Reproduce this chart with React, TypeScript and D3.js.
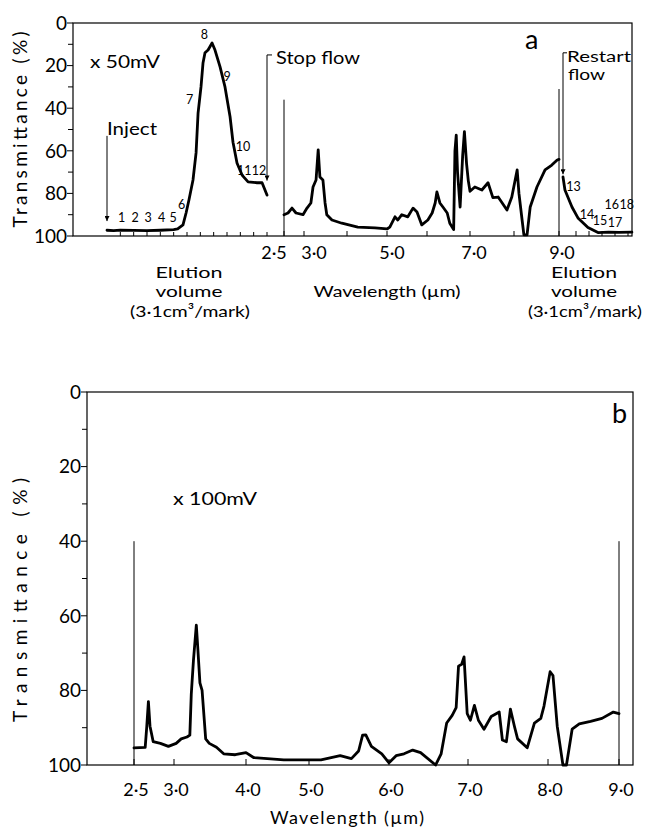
import React from "react";
import * as d3 from "d3";

// ---------- data ----------
const yMajor = [0, 20, 40, 60, 80, 100];
const yMinor = [10, 30, 50, 70, 90];
const wlTicks = [2.5, 3, 4, 5, 6, 7, 8, 9];
const topWlLabelValues = [2.5, 3, 5, 7, 9];
const topWlLabelText = ["2·5", "3·0", "5·0", "7·0", "9·0"];
const botWlLabelValues = [2.5, 3, 4, 5, 6, 7, 8, 9];
const botWlLabelText = ["2·5", "3·0", "4·0", "5·0", "6·0", "7·0", "8·0", "9·0"];

// Panel a: elution before stop flow (marks, transmittance %)
const elutionLeftVol = [0, 0.5, 1, 2, 3, 4, 5, 5.3, 5.7, 5.93, 6.15, 6.45, 6.68, 6.83, 7.05, 7.2, 7.35, 7.58, 7.88, 8.1, 8.48, 8.85, 9.23, 9.45, 9.75, 10.13, 10.58, 11.25, 11.63, 12];
const elutionLeftT = [97.3, 97.5, 97.2, 97.4, 97.5, 97.3, 97.0, 96.7, 94.8, 89.2, 83, 73.7, 61, 42.3, 30, 18.8, 14, 12.7, 9.4, 12.7, 20.6, 30, 44, 56, 65.7, 71.4, 74.6, 75, 75, 80.8];
const elutionLeftMarks = [1, 2, 3, 4, 5, 6, 7, 8, 9, 10, 11, 12];

// Panel a: IR spectrum during stop flow
const irTopWl = [2.5, 2.6, 2.7, 2.8, 2.975, 3.07, 3.16, 3.21, 3.28, 3.33, 3.37, 3.44, 3.49, 3.53, 3.65, 3.88, 4.27, 4.7, 5.0, 5.07, 5.2, 5.27, 5.37, 5.52, 5.65, 5.75, 5.87, 6.02, 6.12, 6.19, 6.23, 6.3, 6.37, 6.47, 6.53, 6.62, 6.65, 6.68, 6.71, 6.77, 6.83, 6.87, 6.92, 6.96, 7.0, 7.11, 7.27, 7.41, 7.52, 7.64, 7.84, 7.95, 8.07, 8.11, 8.18, 8.22, 8.29, 8.36, 8.51, 8.69, 8.84, 8.96, 9.0];
const irTopT = [90, 89.2, 86.9, 89.2, 90, 86.9, 84.5, 77, 73.7, 59.6, 72.3, 73.7, 84.5, 90, 92.5, 94, 95.8, 96.2, 96.7, 95.8, 91, 92.5, 90, 91, 86.9, 88.7, 94.8, 92.5, 89.2, 84.5, 79.3, 84.5, 86.4, 89.2, 94, 97, 60, 52.6, 70, 86.4, 62, 51, 66, 74, 79, 77, 78.4, 75, 82, 81.7, 87.8, 81.7, 69, 80, 92.5, 99.5, 99.5, 86.4, 77, 69, 66.7, 64.3, 64];

// Panel a: elution after restart flow
const elutionRightVol = [13, 13.15, 13.69, 14.15, 14.92, 15.69, 16.5, 17.3, 18.3];
const elutionRightT = [72.3, 78.4, 86.4, 91.5, 96, 98.4, 98.2, 98.3, 98.2];
const elutionRightMarks = [14, 15, 16, 17, 18];

// Panel b: IR spectrum
const irBotWl = [2.5, 2.64, 2.66, 2.68, 2.7, 2.74, 2.83, 2.93, 3.03, 3.1, 3.18, 3.22, 3.24, 3.27, 3.31, 3.33, 3.36, 3.39, 3.44, 3.49, 3.59, 3.69, 3.85, 4.0, 4.12, 4.6, 5.15, 5.39, 5.53, 5.62, 5.67, 5.71, 5.78, 5.91, 6.0, 6.09, 6.19, 6.3, 6.4, 6.59, 6.66, 6.73, 6.8, 6.85, 6.88, 6.92, 6.95, 6.99, 7.03, 7.08, 7.13, 7.2, 7.29, 7.39, 7.43, 7.48, 7.53, 7.58, 7.62, 7.74, 7.83, 7.91, 7.95, 8.03, 8.07, 8.13, 8.21, 8.26, 8.34, 8.44, 8.6, 8.76, 8.92, 9.0];
const irBotT = [95.4, 95.25, 89.6, 83, 89.6, 93.75, 94.2, 95, 94.2, 93, 92.5, 92, 81, 72, 62.5, 68.5, 78, 80, 93, 94.2, 95.25, 97, 97.25, 96.7, 98, 98.6, 98.6, 97.5, 98.3, 96.25, 92, 91.9, 95, 97, 99.4, 97.5, 97, 96, 96.7, 100, 97, 88.75, 86.7, 84.6, 73.5, 73, 71, 86.25, 88, 84, 88, 90.4, 87, 85.8, 93.3, 93.75, 85, 89.6, 93, 95.4, 88.75, 87.5, 84.2, 75, 76, 89.6, 100, 100, 90.4, 89, 88.3, 87.5, 85.8, 86.25];

// Annotation labels for elution marks: [text, mark, transmittance level]
const leftMarkLabels: [string, number, number][] = [
  ["1", 1.1, 91.5], ["2", 2.1, 91.5], ["3", 3.08, 91.5], ["4", 4.1, 91.5], ["5", 4.95, 91.2],
  ["6", 5.6, 85.4], ["7", 6.2, 36], ["8", 7.3, 5.6], ["9", 9.0, 25.4], ["10", 10.2, 58.2],
  ["11", 10.3, 69.5], ["12", 11.4, 69.5],
];
const rightMarkLabels: [string, number, number][] = [
  ["13", 13.8, 77], ["14", 14.85, 90], ["15", 15.85, 93], ["16", 16.75, 85.3], ["17", 17.0, 93.5], ["18", 17.9, 85.3],
];

const FONT = "Lato, 'DejaVu Sans', sans-serif";

export default function App() {
  // Panel a scales
  const yTop = d3.scaleLinear().domain([0, 100]).range([23, 236]);
  const xElL = d3.scaleLinear().domain([0, 12]).range([107, 267]);
  const xWlTop = d3.scaleLinear().domain(wlTicks).range([284, 304, 347, 387, 427, 470, 514, 559]);
  const xElR = d3.scaleLinear().domain([13, 18]).range([563, 628]);
  // Panel b scales
  const yBot = d3.scaleLinear().domain([0, 100]).range([392, 765]);
  const xWlBot = d3.scaleLinear().domain(wlTicks).range([134, 174, 246, 309, 389, 468, 548, 619]);

  const line = (xs: number[], ys: number[], sx: any, sy: any) =>
    d3.line<number>().x((_, i) => sx(xs[i])).y((_, i) => sy(ys[i])).curve(d3.curveLinear)(xs) || "";

  const tA = { l: 73, r: 632, t: 23, b: 236 };
  const tB = { l: 87, r: 633, t: 392, b: 765 };

  const traceStyle = { fill: "none", stroke: "#000", strokeWidth: 2.8, strokeLinejoin: "round" as const, strokeLinecap: "round" as const };
  const thin = { stroke: "#000", strokeWidth: 1 };

  const topLabelDx = [-10, 10, 5, 4, 3];

  return (
    <svg width={645} height={834} style={{ position: "absolute", left: 0, top: 0, background: "#fff" }} fontFamily={FONT}>
      <defs>
        <marker id="arr" viewBox="0 0 10 10" refX="10" refY="5" markerWidth="7" markerHeight="5" orient="auto" markerUnits="userSpaceOnUse">
          <path d="M0,0 L10,5 L0,10 Z" fill="#000" />
        </marker>
      </defs>

      {/* ===== Panel a ===== */}
      <rect x={tA.l} y={tA.t} width={tA.r - tA.l} height={tA.b - tA.t} fill="none" stroke="#000" strokeWidth={1.2} />
      {yMajor.map((v) => (
        <g key={"ya" + v}>
          <line x1={tA.l - 6} x2={tA.l} y1={yTop(v)} y2={yTop(v)} {...thin} />
          <text x={tA.l - 6} y={yTop(v)} dy="0.36em" textAnchor="end" fontSize={19}>{v}</text>
        </g>
      ))}
      {yMinor.map((v) => (
        <line key={"yam" + v} x1={tA.l - 5} x2={tA.l} y1={yTop(v)} y2={yTop(v)} {...thin} />
      ))}
      <text transform={`translate(27,${(yTop(0) + yTop(100)) / 2}) rotate(-90)`} textAnchor="middle" fontSize={19} textLength={196} lengthAdjust="spacing">Transmittance (%)</text>

      {/* x ticks panel a */}
      {elutionLeftMarks.map((m) => (
        <line key={"el" + m} x1={xElL(m)} x2={xElL(m)} y1={tA.b} y2={tA.b - 4} {...thin} />
      ))}
      {wlTicks.map((w) => (
        <line key={"wt" + w} x1={xWlTop(w)} x2={xWlTop(w)} y1={tA.b} y2={tA.b - 5} {...thin} />
      ))}
      {elutionRightMarks.map((m) => (
        <line key={"er" + m} x1={xElR(m)} x2={xElR(m)} y1={tA.b} y2={tA.b - 5} {...thin} />
      ))}
      {topWlLabelValues.map((w, i) => (
        <text key={"twl" + w} x={xWlTop(w) + topLabelDx[i]} y={259} textAnchor="middle" fontSize={18}>{topWlLabelText[i]}</text>
      ))}

      {/* traces */}
      <path d={line(elutionLeftVol, elutionLeftT, xElL, yTop)} {...traceStyle} />
      <path d={line(irTopWl, irTopT, xWlTop, yTop)} {...traceStyle} />
      <path d={line(elutionRightVol, elutionRightT, xElR, yTop)} {...traceStyle} />

      {/* vertical markers */}
      <line x1={xWlTop(2.5)} x2={xWlTop(2.5)} y1={yTop(36)} y2={tA.b} {...thin} />
      <line x1={xWlTop(9)} x2={xWlTop(9)} y1={yTop(31)} y2={tA.b} {...thin} />

      {/* arrows */}
      <line x1={xElL(0)} x2={xElL(0)} y1={yTop(53)} y2={yTop(93)} {...thin} markerEnd="url(#arr)" />
      <text x={xElL(0)} y={135} fontSize={17} textLength={50} lengthAdjust="spacingAndGlyphs">Inject</text>
      <path d={`M${xElL(12) + 5},${yTop(15)} H${xElL(12)} V${yTop(74)}`} fill="none" {...thin} markerEnd="url(#arr)" />
      <text x={276} y={64} fontSize={17} textLength={84} lengthAdjust="spacingAndGlyphs">Stop flow</text>
      <path d={`M${xElR(13) + 4},${yTop(14)} H${xElR(13)} V${yTop(71)}`} fill="none" {...thin} markerEnd="url(#arr)" />
      <text x={567} y={62} fontSize={15.5} textLength={64} lengthAdjust="spacingAndGlyphs">Restart</text>
      <text x={568} y={80} fontSize={15.5} textLength={37} lengthAdjust="spacingAndGlyphs">flow</text>

      <text x={90} y={68} fontSize={17} textLength={70} lengthAdjust="spacingAndGlyphs">x 50mV</text>
      <text x={525} y={49} fontSize={27}>a</text>

      {leftMarkLabels.map(([t, m, v]) => (
        <text key={"lm" + t} x={xElL(m)} y={yTop(v)} dy="0.35em" textAnchor="middle" fontSize={12.5}>{t}</text>
      ))}
      {rightMarkLabels.map(([t, m, v]) => (
        <text key={"rm" + t} x={xElR(m)} y={yTop(v)} dy="0.35em" textAnchor="middle" fontSize={12.5}>{t}</text>
      ))}

      {/* axis titles panel a */}
      <g fontSize={16} textAnchor="middle">
        <text x={189} y={278} textLength={67} lengthAdjust="spacingAndGlyphs">Elution</text>
        <text x={189} y={297} textLength={67} lengthAdjust="spacingAndGlyphs">volume</text>
        <text x={190} y={317} textLength={120} lengthAdjust="spacingAndGlyphs">(3·1cm³/mark)</text>
        <text x={387} y={297} textLength={147} lengthAdjust="spacingAndGlyphs">Wavelength (µm)</text>
        <text x={584} y={278} textLength={66} lengthAdjust="spacingAndGlyphs">Elution</text>
        <text x={584} y={297} textLength={66} lengthAdjust="spacingAndGlyphs">volume</text>
        <text x={585} y={317} textLength={114} lengthAdjust="spacingAndGlyphs">(3·1cm³/mark)</text>
      </g>

      {/* ===== Panel b ===== */}
      <rect x={tB.l} y={tB.t} width={tB.r - tB.l} height={tB.b - tB.t} fill="none" stroke="#000" strokeWidth={1.2} />
      {yMajor.map((v) => (
        <g key={"yb" + v}>
          <line x1={tB.l - 6} x2={tB.l} y1={yBot(v)} y2={yBot(v)} {...thin} />
          <text x={tB.l - 6} y={yBot(v)} dy="0.36em" textAnchor="end" fontSize={19}>{v}</text>
        </g>
      ))}
      {yMinor.map((v) => (
        <line key={"ybm" + v} x1={tB.l - 5} x2={tB.l} y1={yBot(v)} y2={yBot(v)} {...thin} />
      ))}
      <text transform={`translate(27,600) rotate(-90)`} textAnchor="middle" fontSize={19} textLength={244} lengthAdjust="spacing">Transmittance (%)</text>

      {wlTicks.map((w) => (
        <line key={"wb" + w} x1={xWlBot(w)} x2={xWlBot(w)} y1={tB.b} y2={tB.b - 6} {...thin} />
      ))}
      {botWlLabelValues.map((w, i) => (
        <text key={"bwl" + w} x={xWlBot(w) + 2} y={796} textAnchor="middle" fontSize={18}>{botWlLabelText[i]}</text>
      ))}
      <text x={347} y={824} textAnchor="middle" fontSize={18} textLength={154} lengthAdjust="spacing">Wavelength (µm)</text>

      <path d={line(irBotWl, irBotT, xWlBot, yBot)} {...traceStyle} />
      <line x1={xWlBot(2.5)} x2={xWlBot(2.5)} y1={yBot(40)} y2={tB.b} {...thin} />
      <line x1={xWlBot(9)} x2={xWlBot(9)} y1={yBot(40)} y2={tB.b} {...thin} />

      <text x={173} y={505} fontSize={17} textLength={84} lengthAdjust="spacingAndGlyphs">x 100mV</text>
      <text x={612} y={423} fontSize={27}>b</text>
    </svg>
  );
}
